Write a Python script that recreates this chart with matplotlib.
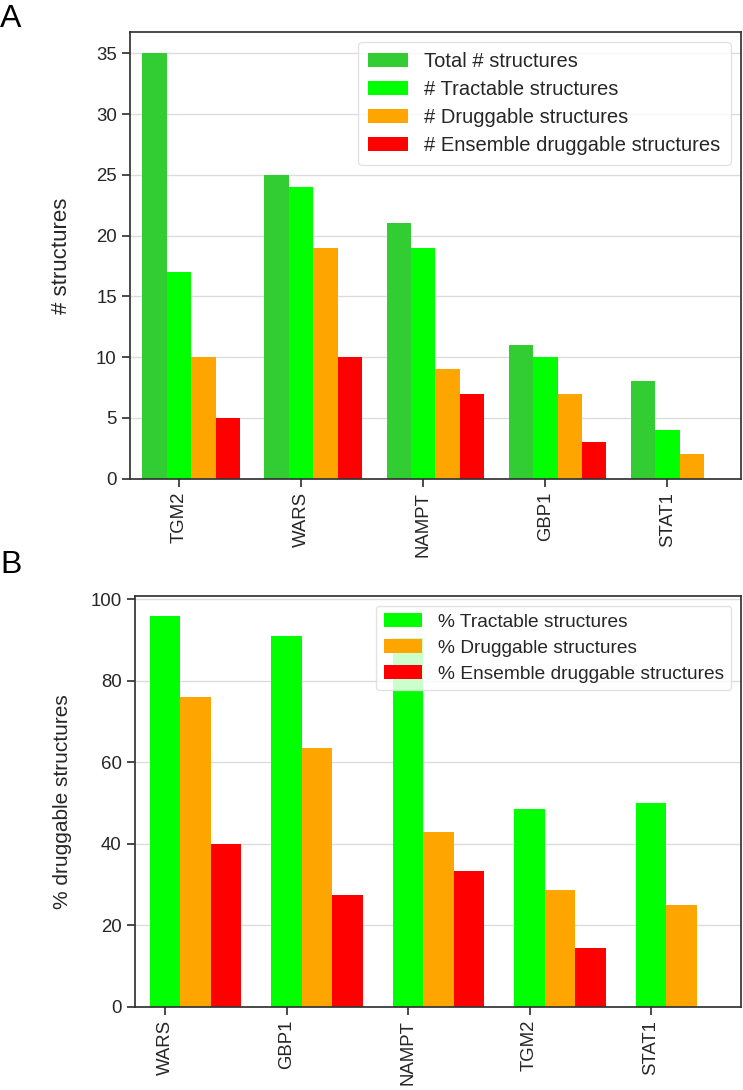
"""
    Structure counts and druggability per target (panels A and B)
"""
import matplotlib
matplotlib.use('Agg')
import matplotlib.pyplot as plt
import numpy as np
import seaborn as sns

sns.set_style('ticks')
plt.rcParams['font.family'] = ['Liberation Sans', 'DejaVu Sans']

# panel A: counts
genes_a = ['TGM2', 'WARS', 'NAMPT', 'GBP1', 'STAT1']
total_a = [35, 25, 21, 11, 8]
tractable_a = [17, 24, 19, 10, 4]
druggable_a = [10, 19, 9, 7, 2]
ensemble_a = [5, 10, 7, 3, 0]

# panel B: percentages
genes_b = ['WARS', 'GBP1', 'NAMPT', 'TGM2', 'STAT1']
tractable_b = [96.0, 90.9, 90.5, 48.6, 50.0]
druggable_b = [76.0, 63.6, 42.9, 28.6, 25.0]
ensemble_b = [40.0, 27.3, 33.3, 14.3, 0.0]

c_total = '#32cd32'
c_tract = '#00ff00'
c_drug = '#ffa500'
c_ens = '#ff0000'
txt_col = '#262626'
tick_size = 13.4

fig = plt.figure(figsize=(7.43, 10.90), dpi=100)
ax_a = fig.add_axes([0.175, 0.5608, 0.822, 0.4098])
ax_b = fig.add_axes([0.1813, 0.0764, 0.816, 0.3768])


def style_axis(ax):
    """
        Shared look for both panels
    """
    ax.yaxis.grid(True, color='#dcdcdc', linewidth=1.0)
    ax.set_axisbelow(True)
    for sp in ax.spines.values():
        sp.set_color('#333333')
        sp.set_linewidth(1.25)
    ax.tick_params(axis='both', labelsize=tick_size, colors='#333333',
                   labelcolor=txt_col, length=6, width=1.25)
    ax.tick_params(axis='x', labelrotation=90)


# ---- panel A
x = np.arange(len(genes_a))
w = 0.2
series_a = [(total_a, c_total, 'Total # structures'),
            (tractable_a, c_tract, '# Tractable structures'),
            (druggable_a, c_drug, '# Druggable structures'),
            (ensemble_a, c_ens, '# Ensemble druggable structures')]
for i, (vals, col, lab) in enumerate(series_a):
    ax_a.bar(x + (i - 1) * w, vals, w, color=col, label=lab, linewidth=0)
ax_a.set_xticks(x)
ax_a.set_xticklabels(genes_a)
ax_a.set_xlim(-0.40, 4.60)
ax_a.set_ylim(0, 36.75)
ax_a.set_yticks(np.arange(0, 36, 5))
ax_a.set_ylabel('# structures', fontsize=16, color=txt_col)
ax_a.yaxis.set_label_coords(-0.095, 0.5)
style_axis(ax_a)
ax_a.legend(loc='upper right', fontsize=14.5, framealpha=0.8,
            edgecolor='#dddddd', borderpad=0.5, handlelength=2.0,
            labelspacing=0.45)

# ---- panel B
x = np.arange(len(genes_b))
w = 0.25
series_b = [(tractable_b, c_tract, '% Tractable structures'),
            (druggable_b, c_drug, '% Druggable structures'),
            (ensemble_b, c_ens, '% Ensemble druggable structures')]
for i, (vals, col, lab) in enumerate(series_b):
    ax_b.bar(x + i * w, vals, w, color=col, label=lab, linewidth=0)
ax_b.set_xticks(x)
ax_b.set_xticklabels(genes_b)
ax_b.set_xlim(-0.25, 4.74)
ax_b.set_ylim(0, 100.8)
ax_b.set_yticks(np.arange(0, 101, 20))
ax_b.set_ylabel('% druggable structures', fontsize=15, color=txt_col)
ax_b.yaxis.set_label_coords(-0.1035, 0.5)
style_axis(ax_b)
ax_b.legend(loc='upper right', fontsize=13.8, framealpha=0.8,
            edgecolor='#dddddd', borderpad=0.4, handlelength=2.0,
            labelspacing=0.45)

fig.text(0.0, 0.996, 'A', fontsize=23, va='top', ha='left', color='black')
fig.text(0.0, 0.4954, 'B', fontsize=23, va='top', ha='left', color='black')

plt.savefig('out.png', dpi=100)
